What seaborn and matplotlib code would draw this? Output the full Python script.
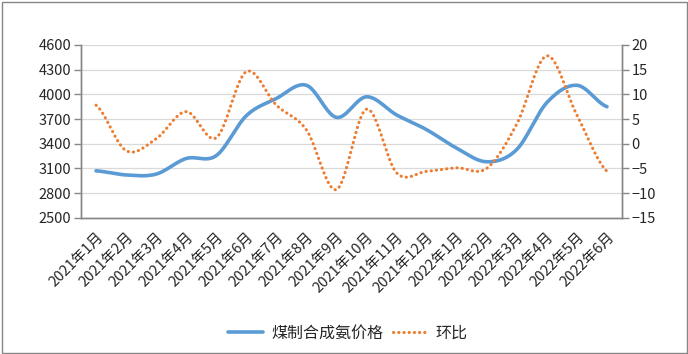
import numpy as np
import pandas as pd
import seaborn as sns
import matplotlib.pyplot as plt
from matplotlib.lines import Line2D
from matplotlib.patches import Rectangle

# --- dados ---
months = ['2021年1月', '2021年2月', '2021年3月', '2021年4月', '2021年5月', '2021年6月',
          '2021年7月', '2021年8月', '2021年9月', '2021年10月', '2021年11月', '2021年12月',
          '2022年1月', '2022年2月', '2022年3月', '2022年4月', '2022年5月', '2022年6月']
price = [3070, 3020, 3030, 3220, 3255, 3740, 3950, 4110, 3720, 3970,
         3750, 3570, 3345, 3180, 3330, 3900, 4110, 3850]
mom = [7.8, -1.4, 1.0, 6.5, 1.2, 14.6, 7.8, 2.8, -9.3, 7.0,
       -5.9, -5.6, -4.9, -5.0, 4.0, 17.8, 5.8, -5.6]

BLUE = '#5B9BD5'
ORANGE = '#ED7D31'
GRAY = '#868686'
DOTS = (0, (0.1, 1.6))

sns.set_theme(style="white")
plt.rcParams['font.family'] = ['Noto Sans CJK SC', 'DejaVu Sans']


def smooth(vals, n=24):
    """Curva suavizada (Catmull-Rom) como a opção 'linha suavizada' do Excel."""
    y = np.asarray(vals, dtype=float)
    p = np.concatenate([[y[0]], y, [y[-1]]])
    xs, ys = [], []
    t = np.linspace(0, 1, n, endpoint=False)
    for i in range(len(y) - 1):
        p0, p1, p2, p3 = p[i], p[i + 1], p[i + 2], p[i + 3]
        seg = 0.5 * (2 * p1 + (-p0 + p2) * t + (2 * p0 - 5 * p1 + 4 * p2 - p3) * t ** 2
                     + (-p0 + 3 * p1 - 3 * p2 + p3) * t ** 3)
        xs.append(i + t)
        ys.append(seg)
    xs.append([len(y) - 1])
    ys.append([y[-1]])
    return np.concatenate(xs), np.concatenate(ys)


fig = plt.figure(figsize=(6.88, 3.54), dpi=100)
ax = fig.add_axes([81 / 688, 1 - 217.7 / 354, (622 - 81) / 688, (217.7 - 45) / 354])
ax2 = ax.twinx()

bx, by = smooth(price)
ox, oy = smooth(mom)
sns.lineplot(x=bx, y=by, ax=ax, color=BLUE, linewidth=2.6, sort=False, zorder=3)
sns.lineplot(x=ox, y=oy, ax=ax2, color=ORANGE, linewidth=2.2, sort=False,
             linestyle=DOTS, zorder=3)
for l in ax2.get_lines():
    l.set_dash_capstyle('round')

ax.set_xlim(-0.5, len(months) - 0.5)
ax.set_ylim(2500, 4600)
ax.set_yticks(np.arange(2500, 4601, 300))
ax2.set_ylim(-15, 20)
ax2.set_yticks(np.arange(-15, 21, 5))

ax.set_xticks(range(len(months)))
ax.set_xticklabels(months, rotation=45, ha='right', rotation_mode='anchor', fontsize=10.5)
ax.set_xticks(np.arange(-0.5, len(months), 1), minor=True)
ax.tick_params(axis='x', which='major', length=0, pad=9)
ax.tick_params(axis='x', which='minor', length=5, color=GRAY, width=1, direction='out')
ax.tick_params(axis='y', length=5, color=GRAY, width=1, direction='out', labelsize=10.5, pad=2)
ax2.tick_params(axis='y', length=5, color=GRAY, width=1, direction='out', labelsize=10.5, pad=2)

ax.grid(axis='y', color='#D9D9D9', linewidth=0.9)
ax.set_axisbelow(True)
for a in (ax, ax2):
    a.spines['top'].set_visible(False)
    for s in ('left', 'right', 'bottom'):
        a.spines[s].set_color(GRAY)
        a.spines[s].set_linewidth(1)
ax.set_zorder(ax2.get_zorder() - 1)
ax.patch.set_visible(True)
ax2.patch.set_visible(False)

handles = [Line2D([], [], color=BLUE, linewidth=2.6),
           Line2D([], [], color=ORANGE, linewidth=2.2, linestyle=DOTS,
                  dash_capstyle='round')]
fig.legend(handles, ['煤制合成氨价格', '环比'], loc='center', bbox_to_anchor=(348 / 688, 1 - 333 / 354),
           ncol=2, frameon=False, fontsize=11.5, handlelength=2.2, columnspacing=0.6,
           handletextpad=0.5)

fig.patches.append(Rectangle((1.5 / 688, 1.5 / 354), 685 / 688, 351 / 354, transform=fig.transFigure,
                             fill=False, edgecolor=GRAY, linewidth=1))

fig.savefig('out.png', dpi=100)
